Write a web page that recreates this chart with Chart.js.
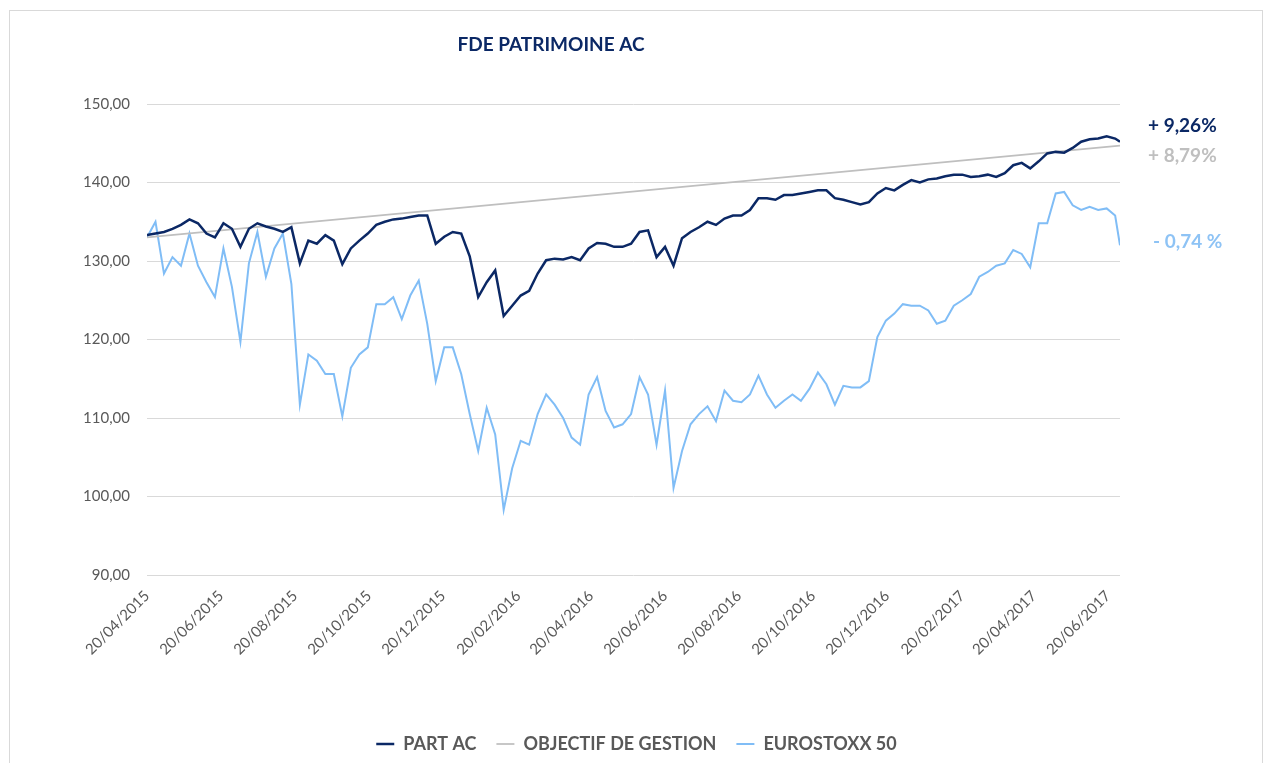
<!DOCTYPE html>
<html>
<head>
<meta charset="utf-8">
<script src="https://cdn.jsdelivr.net/npm/chart.js@4.4.1/dist/chart.umd.min.js"></script>
<style>
  html, body { margin: 0; padding: 0; background: #fff; }
</style>
</head>
<body>
<canvas id="myChart" width="1273" height="763"></canvas>
<script>
const navyColor = '#0b2865'
const greyColor = '#bfbfbf'
const lightBlueColor = '#80bdf6'
const textColor = '#595959'
const gridColor = '#d9d9d9'

// weekly readings
const dates = [
  '2015-04-20','2015-04-27','2015-05-04','2015-05-11','2015-05-18','2015-05-25','2015-06-01','2015-06-08','2015-06-15','2015-06-22',
  '2015-06-29','2015-07-06','2015-07-13','2015-07-20','2015-07-27','2015-08-03','2015-08-10','2015-08-17','2015-08-24','2015-08-31',
  '2015-09-07','2015-09-14','2015-09-21','2015-09-28','2015-10-05','2015-10-12','2015-10-19','2015-10-26','2015-11-02','2015-11-09',
  '2015-11-16','2015-11-23','2015-11-30','2015-12-07','2015-12-14','2015-12-21','2015-12-28','2016-01-04','2016-01-11','2016-01-18',
  '2016-01-25','2016-02-01','2016-02-08','2016-02-15','2016-02-22','2016-02-29','2016-03-07','2016-03-14','2016-03-21','2016-03-28',
  '2016-04-04','2016-04-11','2016-04-18','2016-04-25','2016-05-02','2016-05-09','2016-05-16','2016-05-23','2016-05-30','2016-06-06',
  '2016-06-13','2016-06-20','2016-06-27','2016-07-04','2016-07-11','2016-07-18','2016-07-25','2016-08-01','2016-08-08','2016-08-15',
  '2016-08-22','2016-08-29','2016-09-05','2016-09-12','2016-09-19','2016-09-26','2016-10-03','2016-10-10','2016-10-17','2016-10-24',
  '2016-10-31','2016-11-07','2016-11-14','2016-11-21','2016-11-28','2016-12-05','2016-12-12','2016-12-19','2016-12-26','2017-01-02',
  '2017-01-09','2017-01-16','2017-01-23','2017-01-30','2017-02-06','2017-02-13','2017-02-20','2017-02-27','2017-03-06','2017-03-13',
  '2017-03-20','2017-03-27','2017-04-03','2017-04-10','2017-04-17','2017-04-24','2017-05-01','2017-05-08','2017-05-15','2017-05-22',
  '2017-05-29','2017-06-05','2017-06-12','2017-06-19','2017-06-26','2017-06-30'
]

const partAc = [
  133.3, 133.5, 133.7, 134.1, 134.6, 135.3, 134.8, 133.5, 133.0, 134.8,
  134.1, 131.8, 134.1, 134.8, 134.4, 134.1, 133.7, 134.3, 129.7, 132.6,
  132.2, 133.3, 132.6, 129.6, 131.6, 132.6, 133.5, 134.6, 135.0, 135.3,
  135.4, 135.6, 135.8, 135.8, 132.2, 133.1, 133.7, 133.5, 130.6, 125.4,
  127.3, 128.8, 123.0, 124.3, 125.6, 126.2, 128.4, 130.1, 130.3, 130.2,
  130.5, 130.1, 131.6, 132.3, 132.2, 131.8, 131.8, 132.2, 133.7, 133.9,
  130.5, 131.8, 129.4, 132.9, 133.7, 134.3, 135.0, 134.6, 135.4, 135.8,
  135.8, 136.5, 138.0, 138.0, 137.8, 138.4, 138.4, 138.6, 138.8, 139.0,
  139.0, 138.0, 137.8, 137.5, 137.2, 137.5, 138.6, 139.3, 139.0, 139.7,
  140.3, 140.0, 140.4, 140.5, 140.8, 141.0, 141.0, 140.7, 140.8, 141.0,
  140.7, 141.2, 142.2, 142.5, 141.8, 142.7, 143.7, 143.9, 143.8, 144.4,
  145.2, 145.5, 145.6, 145.9, 145.6, 145.2
]

const eurostoxx = [
  133.0, 135.0, 128.4, 130.5, 129.4, 133.5, 129.4, 127.3, 125.4, 131.6,
  126.7, 119.7, 129.7, 133.7, 128.0, 131.6, 133.5, 127.1, 111.7, 118.1,
  117.3, 115.6, 115.6, 110.2, 116.4, 118.1, 119.0, 124.5, 124.5, 125.4,
  122.6, 125.6, 127.5, 122.0, 114.7, 119.0, 119.0, 115.6, 110.5, 105.8,
  111.3, 107.9, 98.3, 103.6, 107.1, 106.6, 110.5, 113.0, 111.7, 110.0,
  107.5, 106.6, 113.0, 115.2, 110.9, 108.8, 109.2, 110.5, 115.2, 113.0,
  106.6, 113.5, 101.1, 105.8, 109.2, 110.5, 111.5, 109.6, 113.5, 112.2,
  112.0, 113.0, 115.4, 113.0, 111.3, 112.2, 113.0, 112.2, 113.7, 115.8,
  114.3, 111.7, 114.1, 113.9, 113.9, 114.7, 120.3, 122.4, 123.3, 124.5,
  124.3, 124.3, 123.7, 122.0, 122.4, 124.3, 125.0, 125.8, 128.0, 128.6,
  129.4, 129.7, 131.4, 130.9, 129.2, 134.8, 134.8, 138.6, 138.8, 137.1,
  136.5, 136.9, 136.5, 136.7, 135.8, 132.0
]

const objectifDates = ['2015-04-20', '2017-06-30']
const objectif = [133.0, 144.7]

const tickLabels = [
  '20/04/2015', '20/06/2015', '20/08/2015', '20/10/2015', '20/12/2015', '20/02/2016', '20/04/2016',
  '20/06/2016', '20/08/2016', '20/10/2016', '20/12/2016', '20/02/2017', '20/04/2017', '20/06/2017'
]

const perfLabels = ['+ 9,26%', '+ 8,79%', '- 0,74 %']

function dayOf(iso) {
  var p = iso.split('-')
  return (Date.UTC(+p[0], p[1] - 1, +p[2]) - Date.UTC(2015, 3, 20)) / 86400000
}

function tickDay(label) {
  var p = label.split('/')
  return dayOf(p[2] + '-' + p[1] + '-' + p[0])
}

function points(xs, ys) {
  return xs.map(function(d, i) { return { x: dayOf(d), y: ys[i] } })
}

const tickFont = { family: 'Lato', size: 15 }

// title, frame and the performance figures on the right
const textPlugin = {
  id: 'texts',
  beforeDraw(chart) {
    var c = chart.ctx
    c.save()
    c.strokeStyle = gridColor
    c.lineWidth = 1
    c.strokeRect(9.5, 10.5, 1253, 800)
    c.restore()
  },
  afterDraw(chart) {
    var c = chart.ctx
    c.save()
    c.textBaseline = 'middle'
    c.textAlign = 'center'
    c.font = 'bold 19px Lato'
    c.fillStyle = navyColor
    c.fillText('FDE PATRIMOINE AC', 551, 45)

    c.textAlign = 'left'
    c.font = 'bold 19px Lato'
    c.fillStyle = navyColor
    c.fillText(perfLabels[0], 1148, 126)
    c.fillStyle = greyColor
    c.fillText(perfLabels[1], 1148, 156)
    c.fillStyle = '#8ec3f5'
    c.fillText(perfLabels[2], 1153, 242)
    c.restore()
  }
}

var ctx = document.getElementById('myChart')

var lineChart = new Chart(ctx, {
  type: 'line',
  data: {
    datasets: [
      {
        label: 'PART AC',
        data: points(dates, partAc),
        borderColor: navyColor,
        backgroundColor: navyColor,
        borderWidth: 2.5,
      },
      {
        label: 'OBJECTIF DE GESTION',
        data: points(objectifDates, objectif),
        borderColor: greyColor,
        backgroundColor: greyColor,
        borderWidth: 1.75,
      },
      {
        label: 'EUROSTOXX 50',
        data: points(dates, eurostoxx),
        borderColor: lightBlueColor,
        backgroundColor: lightBlueColor,
        borderWidth: 2,
      }
    ]
  },
  plugins: [textPlugin],
  options: {
    responsive: false,
    animation: false,
    devicePixelRatio: 1,
    elements: {
      point: { radius: 0 },
      line: { tension: 0 }
    },
    layout: { padding: { top: 104, left: 0, right: 0, bottom: 0 } },
    scales: {
      x: {
        type: 'linear',
        min: 0,
        max: dayOf('2017-06-30'),
        grid: { display: false },
        border: { display: false },
        afterBuildTicks: function(s) {
          s.ticks = tickLabels.map(function(l) { return { value: tickDay(l) } })
        },
        ticks: {
          autoSkip: false,
          minRotation: 45,
          maxRotation: 45,
          color: textColor,
          font: tickFont,
          padding: 4,
          callback: function(v, i) { return tickLabels[i] }
        },
        afterFit: function(s) { s.height = 140 }
      },
      y: {
        min: 90,
        max: 150,
        grid: { color: gridColor, drawTicks: false, lineWidth: 1 },
        border: { display: false },
        ticks: {
          stepSize: 10,
          color: textColor,
          font: tickFont,
          padding: 17,
          callback: function(v) { return v.toFixed(2).replace('.', ',') }
        },
        afterFit: function(s) { s.width = 147 }
      },
      yRight: {
        position: 'right',
        grid: { display: false },
        border: { display: false },
        ticks: { display: false },
        afterFit: function(s) { s.width = 153 }
      }
    },
    plugins: {
      tooltip: { enabled: false },
      legend: {
        position: 'bottom',
        labels: {
          usePointStyle: true,
          pointStyle: 'line',
          pointStyleWidth: 18,
          color: textColor,
          font: { family: 'Lato', size: 18, weight: 'bold' },
          padding: 20
        }
      }
    }
  }
})
</script>
</body>
</html>
